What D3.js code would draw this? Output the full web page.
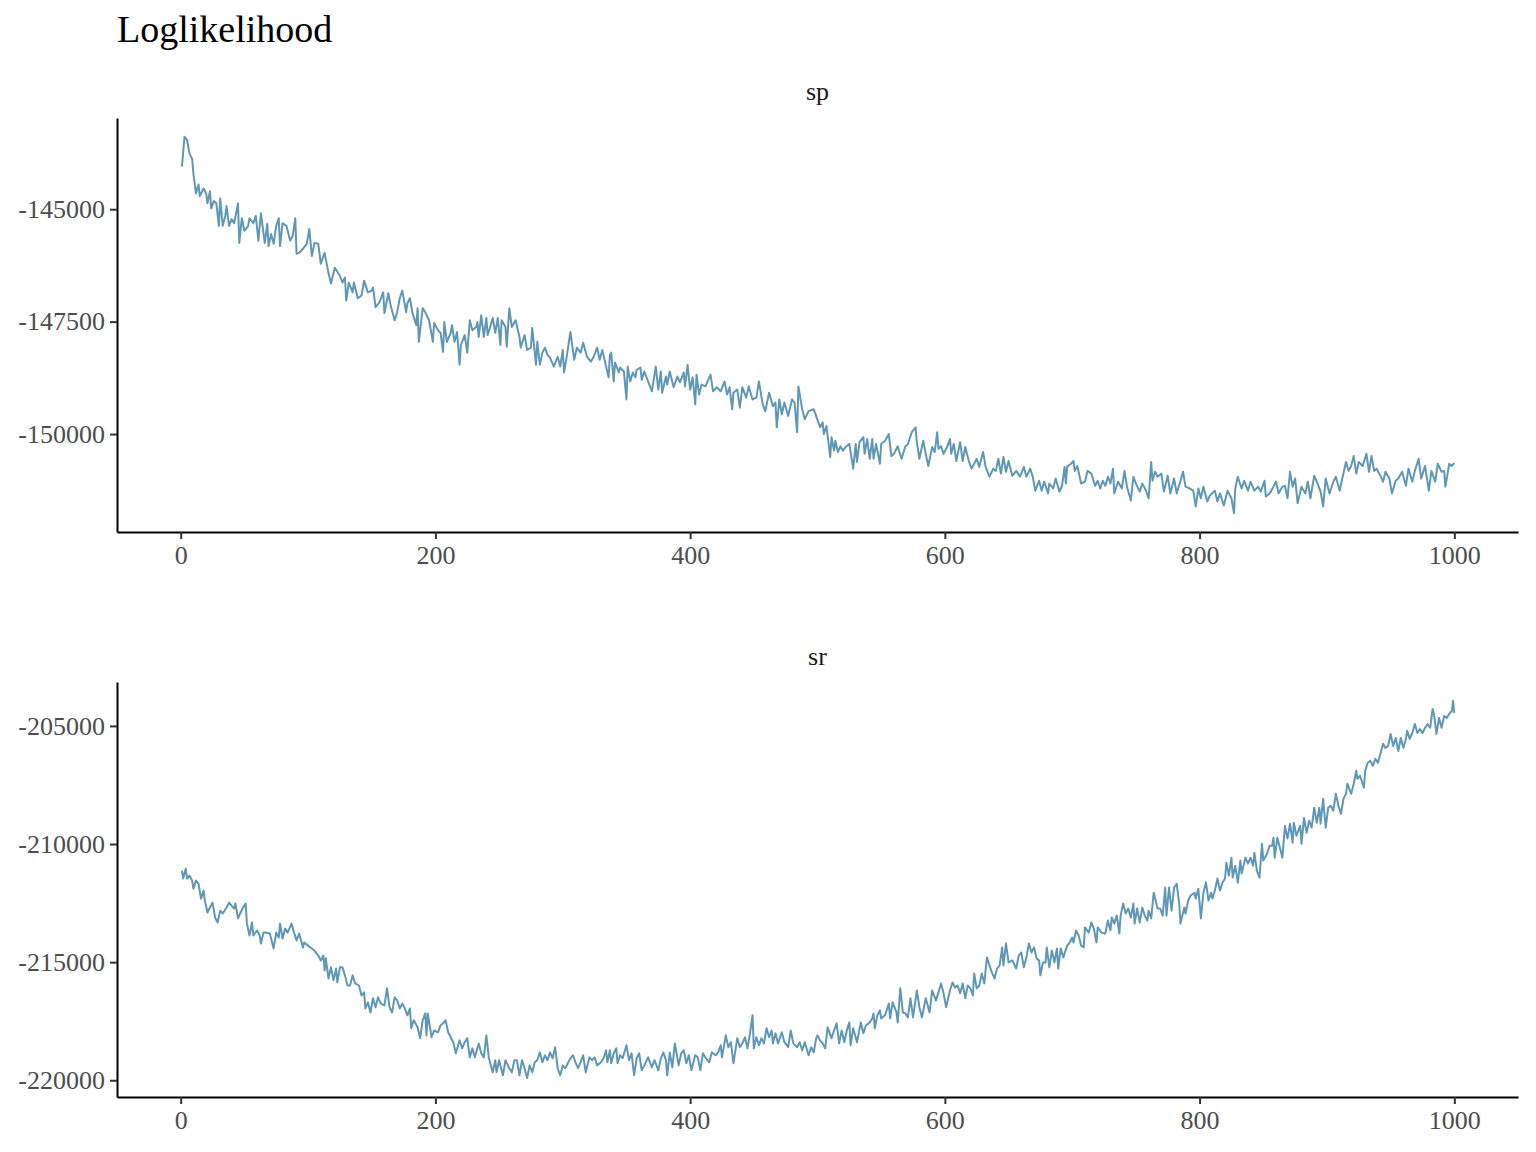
<!DOCTYPE html>
<html><head><meta charset="utf-8">
<script src="https://cdn.jsdelivr.net/npm/d3@7"></script>
<style>
html,body{margin:0;padding:0;background:#fff;}
svg text{font-family:"Liberation Serif","Times New Roman",serif;}
</style></head>
<body>
<svg id="chart" width="1536" height="1152"></svg>
<script>
const title = "Loglikelihood";
const panels = ["sp", "sr"];
const xTicks = [0, 200, 400, 600, 800, 1000];
const spTicks = [-145000, -147500, -150000];
const srTicks = [-205000, -210000, -215000, -220000];

const spIter = [1,3,5,7,9,10,12,14,15,18,20,21,23,24,26,28,30,31,33,35,36,38,40,42,45,46,48,50,53,54,57,59,61,63,66,68,69,71,73,75,77,78,80,83,86,88,90,91,93,96,99,101,103,105,108,110,113,116,118,121,125,127,129,130,132,135,136,139,142,144,147,150,151,153,156,159,160,163,165,168,170,172,174,177,178,180,182,185,186,187,190,192,195,198,199,202,204,206,207,209,212,213,215,217,219,220,223,225,227,229,232,233,234,236,238,240,241,243,245,247,249,251,252,255,256,258,260,263,266,267,270,272,275,276,279,280,282,284,286,288,290,293,296,298,300,301,303,306,309,311,314,316,319,322,324,327,329,331,334,336,337,338,340,341,344,345,348,350,351,353,355,357,358,361,362,364,367,370,373,375,377,378,381,382,384,387,390,392,395,396,398,400,402,404,405,407,409,412,416,418,421,424,427,429,431,433,434,437,439,441,444,446,449,452,454,457,459,462,465,467,468,470,472,474,477,480,482,484,485,488,490,493,497,499,502,504,505,507,510,511,513,514,516,518,520,522,525,528,530,531,533,536,537,539,541,543,544,546,549,550,553,556,558,560,563,564,566,569,571,574,577,578,580,583,585,587,590,592,594,595,597,599,602,604,605,607,609,612,614,616,619,621,625,627,630,632,635,638,640,642,644,646,648,650,653,656,659,662,664,667,669,671,674,676,678,681,682,685,687,690,692,694,695,696,699,701,702,704,707,710,712,715,718,720,722,724,726,728,730,732,733,736,739,741,743,746,748,750,753,755,758,760,762,763,765,767,770,772,775,777,780,782,785,787,789,792,795,797,799,801,803,806,808,812,814,816,819,822,825,827,828,830,833,835,838,840,843,846,848,851,852,855,858,860,862,865,867,869,871,873,875,877,880,883,885,887,890,892,895,897,899,902,905,907,910,912,915,917,919,921,923,925,928,931,933,935,937,939,942,944,946,949,951,954,956,959,962,964,967,969,972,974,977,980,982,985,987,990,992,993,996,998,1000];
const spValue = [-144050,-143390,-143460,-143770,-143880,-144210,-144650,-144450,-144710,-144540,-144650,-144870,-144600,-144980,-144820,-144870,-145370,-144760,-145370,-145150,-144930,-145370,-145220,-145310,-144870,-145750,-145200,-145480,-145370,-145200,-145310,-145150,-145700,-145090,-145750,-145330,-145820,-145550,-145770,-145370,-145200,-145820,-145310,-145370,-145700,-145590,-145200,-145990,-145970,-145880,-145770,-145440,-146040,-145750,-145770,-146210,-145970,-146410,-146650,-146300,-146480,-146630,-146520,-147030,-146630,-146850,-146630,-146980,-146920,-146590,-146850,-146810,-146740,-147180,-147070,-146850,-147310,-146870,-147160,-147470,-147290,-146980,-146810,-147290,-147090,-146980,-147310,-147580,-147200,-147950,-147200,-147290,-147470,-147950,-147530,-147690,-147750,-148170,-147510,-147950,-147750,-147580,-147950,-147730,-148460,-148020,-147800,-148190,-147470,-147690,-147620,-147510,-147840,-147360,-147840,-147420,-147800,-147620,-147420,-147750,-147420,-148020,-147470,-147620,-148060,-147200,-147620,-147470,-147840,-148080,-147800,-148130,-148080,-147640,-148460,-147950,-148460,-148190,-148080,-148240,-148300,-148500,-148280,-148500,-148130,-148630,-148300,-147730,-148350,-148080,-148190,-147970,-148280,-148390,-148300,-148080,-148350,-148130,-148500,-148740,-148240,-148190,-148830,-148410,-148630,-148520,-148610,-149230,-148500,-148830,-148630,-148740,-148570,-148520,-148790,-148610,-148830,-149050,-148500,-149010,-148610,-149080,-148720,-148900,-148610,-148960,-148720,-148850,-148630,-148940,-148460,-149010,-148740,-149340,-148680,-149120,-148900,-148940,-148680,-149050,-148960,-149050,-148830,-149120,-148960,-149450,-149080,-149010,-149410,-148960,-149190,-148940,-149230,-149190,-148830,-149340,-149490,-149080,-149380,-149300,-149850,-149230,-149560,-149300,-149600,-149230,-149300,-149960,-148940,-149450,-149670,-149490,-149450,-149600,-149850,-149740,-150000,-149820,-150510,-150070,-150370,-150150,-150400,-150270,-150370,-150290,-150220,-150770,-150220,-150620,-150180,-150070,-150440,-150110,-150550,-150110,-150550,-150220,-150660,-150220,-150150,-150000,-150490,-150440,-150270,-150370,-150550,-150270,-150220,-149960,-149850,-150180,-150550,-150150,-150440,-150710,-150290,-150400,-149960,-150330,-150270,-150440,-150270,-150110,-150440,-150220,-150600,-150180,-150600,-150290,-150620,-150770,-150550,-150730,-150400,-150730,-150950,-150770,-150820,-150550,-150880,-150510,-150840,-150600,-150930,-150820,-150950,-150730,-150950,-150770,-150950,-151260,-151040,-151260,-151060,-151320,-151100,-151210,-150990,-151280,-151150,-150730,-151100,-150730,-150660,-150600,-150820,-150710,-151100,-151060,-150820,-150880,-151150,-151040,-151210,-151040,-151150,-150950,-151100,-150770,-151320,-151060,-151210,-150820,-151170,-151480,-150950,-151100,-151280,-151100,-151260,-151430,-150620,-151040,-150840,-150950,-150880,-151280,-150930,-151320,-150990,-151320,-151040,-150840,-151170,-151210,-151260,-151610,-151210,-151430,-151170,-151500,-151370,-151260,-151500,-151320,-151590,-151260,-151430,-151760,-151210,-150950,-151210,-151040,-151260,-151060,-151260,-151170,-151280,-151040,-151390,-151320,-151170,-151060,-151320,-151170,-151150,-151430,-150840,-151170,-150990,-151540,-151170,-151320,-151060,-151430,-150930,-151060,-151280,-151610,-150990,-151320,-151060,-150950,-151260,-150990,-150620,-150820,-150710,-150490,-150880,-150620,-150710,-150440,-150840,-150490,-150820,-150770,-150930,-151060,-150840,-150990,-151320,-151040,-150990,-150840,-151150,-150770,-151060,-150820,-150550,-150990,-150710,-151260,-150820,-151060,-150660,-150840,-150820,-151170,-150660,-150710,-150640];

const srIter = [1,2,4,5,7,9,10,12,14,16,18,19,21,23,25,27,29,31,33,36,38,40,42,43,45,47,49,51,52,54,56,57,60,62,63,65,67,70,73,75,77,78,80,82,84,87,89,91,93,96,97,100,103,105,108,110,112,113,114,116,118,120,122,123,125,127,129,131,133,135,137,140,142,144,145,147,149,151,153,155,157,160,162,164,166,168,170,172,174,176,178,180,181,183,186,188,190,192,193,194,197,199,202,204,206,208,210,212,214,216,219,221,223,225,227,229,231,234,236,238,240,242,245,247,248,250,253,255,258,260,262,264,266,268,270,272,274,276,278,280,282,284,286,288,290,292,294,296,298,300,302,304,306,308,310,312,314,316,318,321,323,325,327,330,332,334,335,337,338,340,342,343,345,347,350,352,354,356,358,360,362,364,367,370,372,375,377,379,381,382,384,386,388,391,393,395,397,399,401,404,406,408,410,412,415,417,420,422,424,425,428,430,432,434,437,439,441,443,445,447,449,450,452,454,456,458,460,462,464,465,467,469,472,474,477,479,481,484,486,488,490,493,495,497,499,500,502,504,506,508,511,513,515,517,519,521,523,525,526,528,530,531,534,536,538,541,543,544,545,547,549,550,553,556,557,559,562,563,565,567,569,571,573,575,578,580,582,585,588,590,593,595,597,599,601,604,606,608,610,612,614,616,618,620,622,623,625,627,629,631,633,635,637,639,641,643,645,646,648,650,653,656,658,660,662,664,666,668,670,672,674,675,677,679,680,682,684,686,688,689,691,693,696,698,700,701,703,705,707,709,710,713,715,717,719,720,723,726,728,730,731,733,735,737,738,740,742,744,746,748,749,751,753,755,757,759,760,762,764,767,769,771,773,774,776,778,780,782,784,785,788,789,791,793,796,797,799,801,803,805,807,809,810,812,814,816,818,820,821,823,825,826,828,830,832,833,836,838,840,842,843,845,847,849,850,853,855,857,858,859,861,863,865,867,869,871,873,874,876,879,880,882,884,886,888,890,892,894,895,897,899,901,903,905,907,909,911,913,915,916,919,921,923,924,926,929,930,932,934,936,938,940,942,944,946,948,950,952,954,956,958,960,962,963,965,967,969,971,973,975,977,979,981,983,984,986,988,990,992,994,996,998,999,1000];
const srValue = [-211130,-211460,-211040,-211460,-211340,-211550,-211890,-211550,-211680,-212310,-211970,-212390,-212900,-212690,-212480,-213110,-213320,-212820,-212940,-212690,-212480,-212610,-212730,-212520,-213150,-212900,-212690,-212520,-213370,-213870,-213320,-213870,-213660,-213870,-214210,-213750,-213750,-213790,-214420,-213750,-213960,-213370,-214000,-213580,-213750,-213370,-213750,-214080,-213790,-214380,-214170,-214300,-214420,-214510,-214720,-214930,-214720,-215350,-214840,-215690,-215220,-215770,-215270,-215860,-215220,-215220,-215560,-215990,-215990,-215560,-215900,-215990,-216410,-216280,-216960,-216700,-217130,-216530,-216910,-216490,-216750,-216830,-216110,-216910,-217130,-216490,-216620,-216960,-216750,-216960,-217250,-216960,-217800,-217460,-217760,-218220,-217460,-217170,-218100,-217170,-218180,-217890,-217970,-217680,-217590,-217460,-217970,-218180,-218390,-218860,-218310,-218650,-218390,-218220,-219030,-218650,-219030,-218440,-218860,-219030,-218100,-219070,-219660,-219150,-219660,-219150,-219790,-219150,-219490,-219660,-219150,-219150,-219790,-219150,-219490,-219910,-219370,-219660,-219240,-219150,-218820,-219240,-218940,-219150,-218820,-219070,-218600,-219490,-219790,-219370,-219490,-219280,-219070,-218940,-219240,-219490,-219240,-218940,-219660,-219030,-219150,-219030,-219370,-219240,-219070,-218730,-219240,-218730,-219280,-218860,-218650,-219280,-218940,-219070,-218520,-219150,-218860,-219790,-219070,-218860,-219580,-219370,-219030,-219450,-219150,-219580,-219070,-218820,-219150,-219790,-218820,-219450,-218440,-219370,-218860,-218730,-219280,-218940,-219580,-218940,-219030,-219580,-218860,-219030,-219240,-218820,-218940,-218820,-218520,-219030,-218100,-218600,-218390,-219280,-218220,-218600,-218440,-218180,-218650,-218010,-217250,-218650,-218180,-218520,-218220,-218440,-217800,-218180,-217890,-218440,-218010,-218440,-217970,-218390,-218600,-217890,-218440,-218600,-218390,-218730,-218390,-218940,-218600,-218820,-218220,-218100,-218310,-218440,-218650,-217760,-218220,-217890,-217590,-218440,-217890,-218390,-217890,-217550,-218520,-217800,-218180,-218390,-217550,-218010,-217680,-217550,-217380,-217170,-217800,-217250,-217040,-217380,-217250,-216750,-217380,-216700,-217130,-217550,-216110,-217130,-217170,-217340,-216530,-217340,-216200,-216910,-217340,-216530,-217130,-216200,-216620,-216280,-215900,-216320,-216910,-216200,-215860,-216070,-215990,-216320,-215900,-216530,-215990,-216110,-216410,-215480,-216110,-215990,-215480,-215900,-214800,-215140,-215440,-215690,-215270,-215140,-214380,-215140,-214210,-215010,-214930,-215270,-214720,-214590,-215220,-214800,-214210,-214590,-214380,-214840,-214930,-215560,-215010,-215010,-214380,-215220,-214510,-215010,-214420,-215270,-214420,-214800,-214300,-214170,-213960,-214170,-213660,-213870,-214300,-214380,-213530,-213750,-213320,-213580,-214170,-213530,-213750,-213790,-213240,-213660,-213110,-213370,-213030,-213790,-213030,-212520,-212940,-212730,-213110,-212520,-213370,-212730,-213320,-212690,-213030,-213240,-212820,-213150,-212060,-212730,-212730,-213030,-211840,-213030,-211840,-212820,-211840,-211680,-212520,-213370,-212690,-212940,-212390,-212180,-212060,-212310,-211890,-213150,-212060,-211630,-212390,-212060,-212310,-211970,-211460,-211970,-211630,-211460,-210790,-211340,-210580,-211420,-210920,-211630,-210700,-211250,-210580,-210830,-210580,-210920,-210370,-211130,-211420,-209990,-210700,-210410,-210070,-210070,-209730,-210580,-209730,-210150,-210580,-209230,-209770,-209140,-209940,-209100,-209650,-209230,-209990,-208890,-209520,-209010,-209310,-208460,-209100,-208460,-209140,-208080,-209310,-208460,-208380,-208590,-207870,-208380,-208720,-208080,-207870,-207450,-207870,-207450,-206900,-207240,-207110,-207620,-206900,-206560,-206480,-206690,-206390,-206560,-206180,-205760,-205930,-205850,-205340,-205850,-205510,-206060,-205510,-205930,-205550,-205210,-205550,-205300,-204920,-205300,-205130,-205300,-205080,-204920,-205080,-204280,-204490,-205340,-204660,-205080,-204580,-204660,-204490,-204370,-203940,-204450];

const svg = d3.select("#chart");
const lineColor = "#6097b5";
const left = 117, right = 1518;

svg.append("text").attr("x", left).attr("y", 42)
  .attr("font-size", 38).attr("fill", "#000").text(title);

const x = d3.scaleLinear().domain([-50, 1050]).range([left, right]);

function expand(vals) {
  const [mn, mx] = d3.extent(vals);
  const p = (mx - mn) * 0.05;
  return [mn - p, mx + p];
}

const panelDefs = [
  {name: panels[0], iter: spIter, vals: spValue, ticks: spTicks, top: 118, bottom: 532, stripY: 100},
  {name: panels[1], iter: srIter, vals: srValue, ticks: srTicks, top: 682, bottom: 1097, stripY: 665}
];

panelDefs.forEach(p => {
  const y = d3.scaleLinear().domain(expand(p.vals)).range([p.bottom, p.top]);
  const g = svg.append("g");
  g.append("text").attr("x", (left + right) / 2).attr("y", p.stripY)
    .attr("text-anchor", "middle").attr("font-size", 26).attr("fill", "#1a1a1a").text(p.name);
  const pts = p.iter.map((d, i) => [d, p.vals[i]]);
  g.append("path").datum(pts)
    .attr("fill", "none").attr("stroke", lineColor).attr("stroke-width", 2)
    .attr("stroke-linejoin", "round")
    .attr("d", d3.line().x(d => x(d[0])).y(d => y(d[1])));
  const yAxis = g.append("g").attr("transform", `translate(${left},0)`)
    .call(d3.axisLeft(y).tickValues(p.ticks).tickSize(7).tickSizeOuter(0).tickPadding(5).tickFormat(d => String(d)));
  const xAxis = g.append("g").attr("transform", `translate(0,${p.bottom})`)
    .call(d3.axisBottom(x).tickValues(xTicks).tickSize(7).tickSizeOuter(0).tickPadding(7).tickFormat(d => String(d)));
  [yAxis, xAxis].forEach(a => {
    a.select(".domain").attr("stroke", "#000").attr("stroke-width", 2);
    a.selectAll(".tick line").attr("stroke", "#333").attr("stroke-width", 2);
    a.selectAll(".tick text").attr("font-size", 26).attr("fill", "#4d4d4d")
      .attr("font-family", "'Liberation Serif','Times New Roman',serif");
  });
});
</script>
</body></html>
